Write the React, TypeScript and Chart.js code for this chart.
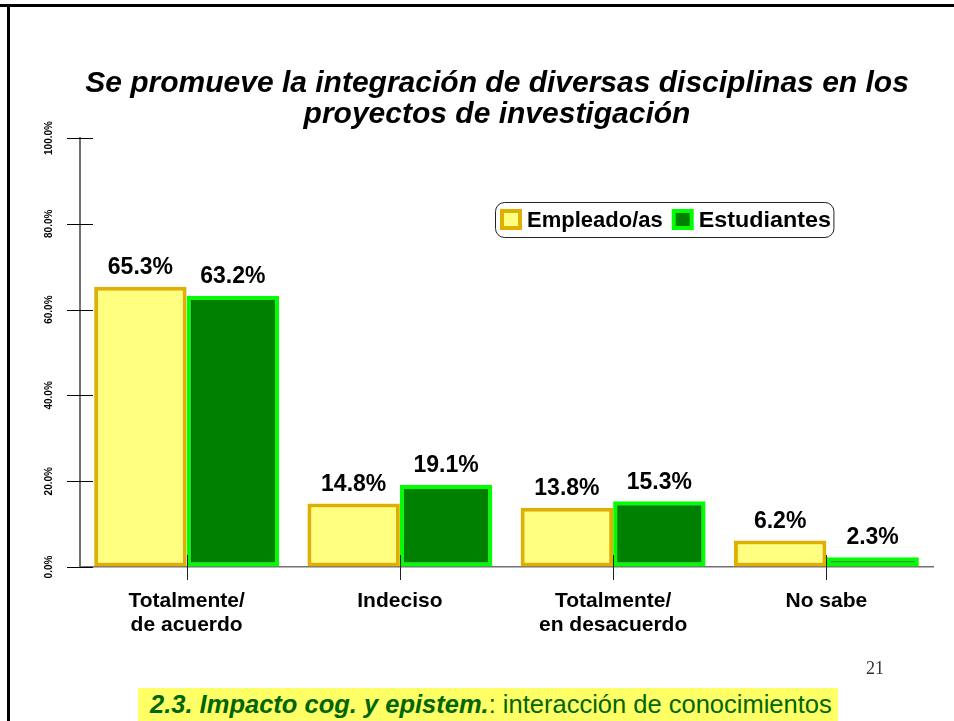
import React, { useEffect, useRef } from "react";
import { Chart, registerables } from "chart.js";

Chart.register(...registerables);

const categories: string[][] = [
  ["Totalmente/", "de acuerdo"],
  ["Indeciso"],
  ["Totalmente/", "en desacuerdo"],
  ["No sabe"],
];
const seriesNames = ["Empleado/as", "Estudiantes"];
const empleados = [65.3, 14.8, 13.8, 6.2];
const estudiantes = [63.2, 19.1, 15.3, 2.3];
const yTicks = [0, 20, 40, 60, 80, 100];
const titleLines = [
  "Se promueve la integración de diversas disciplinas en los",
  "proyectos de investigación",
];
const footerBold = "2.3. Impacto cog. y epistem.";
const footerRest = ": interacción de conocimientos";
const slideNumber = "21";

const FONT = "'Liberation Sans', Arial, Helvetica, sans-serif";

const decorPlugin = {
  id: "decor",
  afterDatasetsDraw(chart: any) {
    const ctx: CanvasRenderingContext2D = chart.ctx;
    const ca = chart.chartArea;
    const y = chart.scales.y;
    const x = chart.scales.x;
    ctx.save();

    // slide frame (top & left)
    ctx.fillStyle = "#000";
    ctx.fillRect(0, 4, 954, 3);
    ctx.fillRect(7, 4, 3, 717);

    // title
    ctx.fillStyle = "#000";
    ctx.font = `italic bold 30px ${FONT}`;
    ctx.textAlign = "center";
    ctx.textBaseline = "alphabetic";
    titleLines.forEach((l, i) => ctx.fillText(l, 497, 92 + i * 31));

    // y tick marks crossing axis
    ctx.strokeStyle = "#000";
    ctx.lineWidth = 1;
    yTicks.forEach((v) => {
      const py = Math.round(y.getPixelForValue(v)) + 0.5;
      ctx.beginPath();
      ctx.moveTo(ca.left - 13, py);
      ctx.lineTo(ca.left + 13, py);
      ctx.stroke();
    });

    // y labels rotated
    ctx.font = `bold 10px ${FONT}`;
    ctx.fillStyle = "#000";
    yTicks.forEach((v) => {
      const py = y.getPixelForValue(v);
      ctx.save();
      ctx.translate(ca.left - 31, py);
      ctx.rotate(-Math.PI / 2);
      ctx.textAlign = "center";
      ctx.textBaseline = "middle";
      ctx.fillText(v.toFixed(1) + "%", 0, 0);
      ctx.restore();
    });

    // x tick marks at category centers
    ctx.strokeStyle = "#222";
    ctx.lineWidth = 1;
    categories.forEach((_, i) => {
      const px = Math.round(x.getPixelForValue(i)) + 0.5;
      ctx.beginPath();
      ctx.moveTo(px, ca.bottom - 12);
      ctx.lineTo(px, ca.bottom + 13);
      ctx.stroke();
    });

    // value labels
    ctx.font = `bold 23px ${FONT}`;
    ctx.fillStyle = "#000";
    ctx.textAlign = "center";
    ctx.textBaseline = "middle";
    chart.data.datasets.forEach((ds: any, di: number) => {
      chart.getDatasetMeta(di).data.forEach((bar: any, i: number) => {
        ctx.fillText(Number(ds.data[i]).toFixed(1) + "%", bar.x, bar.y - 19);
      });
    });

    // legend
    const lx = 495;
    const ly = 202;
    const lh = 35;
    ctx.font = `bold 22px ${FONT}`;
    const items = chart.data.datasets.map((ds: any) => ({
      label: ds.label,
      fill: ds.backgroundColor,
      stroke: ds.borderColor,
      w: ctx.measureText(ds.label).width,
    }));
    let cx = lx + 5;
    const pos: number[] = [];
    items.forEach((it: any, i: number) => {
      pos.push(cx);
      cx += 22 + 5 + it.w + (i < items.length - 1 ? 9 : 6);
    });
    const lw = cx - lx + 4;
    ctx.strokeStyle = "#222";
    ctx.lineWidth = 1;
    ctx.beginPath();
    (ctx as any).roundRect(lx + 0.5, ly + 0.5, lw, lh, 9);
    ctx.stroke();
    items.forEach((it: any, i: number) => {
      const sx = pos[i];
      ctx.fillStyle = it.stroke;
      ctx.fillRect(sx, ly + 7, 22, 21);
      ctx.fillStyle = it.fill;
      ctx.fillRect(sx + 4, ly + 11, 14, 13);
      ctx.fillStyle = "#000";
      ctx.textAlign = "left";
      ctx.textBaseline = "middle";
      ctx.save();
      ctx.translate(sx + 27, ly + lh / 2 + 1);
      ctx.scale(i === 0 ? 1 : 1.06, 1);
      ctx.fillText(it.label, 0, 0);
      ctx.restore();
    });

    ctx.restore();
  },
};

export default function App() {
  const ref = useRef<HTMLCanvasElement | null>(null);

  useEffect(() => {
    if (!ref.current) return;
    const chart = new Chart(ref.current, {
      type: "bar",
      data: {
        labels: categories,
        datasets: [
          {
            label: seriesNames[0],
            data: empleados,
            backgroundColor: "#FFFF80",
            borderColor: "#E0B000",
            borderWidth: 4,
            borderSkipped: false,
          },
          {
            label: seriesNames[1],
            data: estudiantes,
            backgroundColor: "#008000",
            borderColor: "#00FF00",
            borderWidth: 4,
            borderSkipped: false,
          },
        ],
      },
      options: {
        animation: false,
        responsive: false,
        devicePixelRatio: 1,
        categoryPercentage: 0.867,
        barPercentage: 1,
        layout: { padding: { left: 80, right: 21, top: 138, bottom: 54 } },
        plugins: {
          legend: { display: false },
          title: { display: false },
          tooltip: { enabled: false },
        },
        scales: {
          x: {
            grid: { display: true, drawOnChartArea: false, drawTicks: false },
            border: { display: true, color: "#707070", width: 1.5 },
            ticks: {
              padding: 22,
              color: "#000",
              font: { family: FONT, size: 21, weight: "bold", lineHeight: 1.14 },
              maxRotation: 0,
              minRotation: 0,
            },
            afterFit: (s: any) => {
              s.height = 100;
            },
          },
          y: {
            min: 0,
            max: 100,
            ticks: { display: false, stepSize: 20 },
            grid: { display: true, drawOnChartArea: false, drawTicks: false },
            border: { display: true, color: "#707070", width: 2 },
            afterFit: (s: any) => {
              s.width = 0;
            },
          },
        },
      } as any,
      plugins: [decorPlugin],
    });
    return () => chart.destroy();
  }, []);

  return (
    <div
      style={{
        position: "absolute",
        left: 0,
        top: 0,
        width: 954,
        height: 721,
        overflow: "hidden",
        background: "#fff",
      }}
    >
      <canvas
        ref={ref}
        width={954}
        height={721}
        style={{ position: "absolute", left: 0, top: 0, width: 954, height: 721 }}
      />
      <div
        style={{
          position: "absolute",
          left: 866,
          top: 658,
          fontFamily: "'Liberation Serif', 'Times New Roman', serif",
          fontSize: 18,
          color: "#333",
          lineHeight: "20px",
        }}
      >
        {slideNumber}
      </div>
      <div
        style={{
          position: "absolute",
          left: 138,
          top: 688,
          width: 700,
          height: 40,
          background: "#FFFF66",
          boxSizing: "border-box",
          paddingLeft: 12,
          fontFamily: FONT,
          fontSize: 25.5,
          lineHeight: "32px",
          color: "#006600",
          whiteSpace: "nowrap",
        }}
      >
        <span style={{ fontWeight: "bold", fontStyle: "italic" }}>{footerBold}</span>
        <span>{footerRest}</span>
      </div>
    </div>
  );
}
